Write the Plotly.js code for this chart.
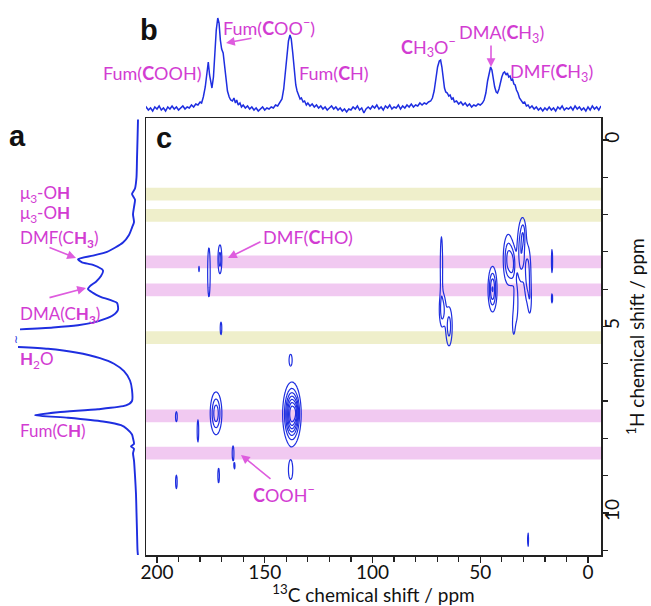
<!DOCTYPE html>
<html><head><meta charset="utf-8">
<script src="https://cdn.plot.ly/plotly-3.0.1.min.js"></script>
<style>body{margin:0;background:#fff}#chart{width:651px;height:606px}</style>
</head><body><div id="chart"></div>
<script>
// ---- (b) 13C projection: [chemical shift (ppm), intensity] ----
const c13Spectrum = [
 [205.6,6],[205,8],[204,5],[203,7],[202,4],[201,8],[200,6],[199,9],[198,5],[197,7],[196,4],[195,8],[194,6],[193,9],[192,6],[191,8],[190,5],[189,7],[188,9],[187,6],[186,8],[185,7],[184,10],[183,8],[182,11],[181,10],[180,13],
 [179.3,12],[178.5,18],[177.6,28],[176.8,42],[176.2,53],[175.6,40],[175,30],[174.5,27],[173.8,38],[173.2,60],[172.5,85],[171.8,97],[171.2,92],[170.6,75],[170,66],[169.3,62],[168.6,48],[168,35],[167.3,24],[166.5,18],[165.8,15],[165,14],[164.3,17],[163.6,12],[163,15],[162.3,10],[161.5,12],[160.8,8],[160,10],
 [159,7],[158,9],[157,6],[156,8],[155,5],[154,7],[153,4],[152,6],[151,8],[150,5],[149,7],[148,6],[147,8],[146,7],[145,10],[144,9],[143,12],[142,16],
 [141.2,26],[140.5,42],[139.8,60],[139,74],[138.3,80],[137.7,76],[137,62],[136.3,42],[135.6,30],[135,24],[134.3,19],[133.6,16],[133,17],[132.2,13],[131.5,14],[130.7,10],[130,12],
 [129,9],[128,11],[127,8],[126,10],[125,7],[124,9],[123,6],[122,8],[121,5],[120,7],[119,9],[118,6],[117,8],[116,5],[115,7],[114,4],[113,6],[112,3],[111,6],[110,5],[109,8],[108,6],[107,9],[106,5],[105,7],[104,2],[103,6],[102,8],[101,6],[100,9],
 [99,7],[98,10],[97,6],[96,8],[95,5],[94,9],[93,7],[92,10],[91,6],[90,8],[89,7],[88,10],[87,6],[86,9],[85,7],[84,10],[83,8],[82,11],[81,8],[80,10],[79,9],[78,12],[77,10],[76,12],[75,11],[74,13],[73,14],
 [72.2,17],[71.4,24],[70.6,36],[69.8,48],[69,54],[68.4,55],[67.8,48],[67.2,36],[66.6,27],[66,23],[65.3,22],[64.6,19],[64,20],[63.3,16],[62.6,17],[62,13],[61,14],[60,11],
 [59,13],[58,10],[57,12],[56,9],[55,11],[54,8],[53,10],[52,9],[51,11],[50,10],[49,12],
 [48.2,15],[47.4,22],[46.6,34],[45.8,44],[45.2,48],[44.6,45],[44,37],[43.3,28],[42.6,23],[42,22],[41.3,26],[40.6,33],[40,38],[39.3,42],[38.7,43],[38,40],[37.4,42],[36.8,38],[36.2,39],[35.6,35],[35,36],[34.4,31],[33.8,30],[33.2,25],[32.5,22],[31.8,17],[31,15],[30.2,12],[29.4,13],[28.6,9],[27.8,10],
 [27,7],[26,9],[25,6],[24,8],[23,5],[22,7],[21,4],[20,7],[19,5],[18,8],[17,5],[16,7],[15,4],[14,8],[13,6],[12,9],[11,5],[10,7],[9,6],[8,8],[7,5],[6,9],[5,6],[4,8],[3,5],[2,7],[1,4],[0,8],[-1,5],[-2,9],[-3,6],[-4,8],[-5,5],[-6,9],[-6.5,7]
];

// ---- (a) 1H projection: chemical shift (ppm) and intensity; null = clipped H2O peak ----
const h1Ppm = [-0.55,0,0.5,1.0,1.3,1.45,1.6,1.8,2.0,2.2,2.35,2.55,2.75,3.0,3.1,3.2,3.28,3.35,3.5,3.65,3.8,3.92,4.0,4.1,4.2,4.37,4.55,4.7,4.8,4.9,4.97,5.03,5.08,5.3,5.55,5.6,5.7,5.85,6.0,6.2,6.45,6.7,7.0,7.12,7.22,7.3,7.38,7.45,7.55,7.65,7.75,7.9,8.0,8.15,8.22,8.28,8.4,8.6,9.0,9.5,10.0,10.5,11.0,11.15];
const h1Int = [0,0.5,1,1.5,3,6,3,4,5,4,6,9,15,31,45,60,56,45,35,37,42,48,50,45,38,21,20,25,33,45,60,85,118,null,120,90,62,38,24,14,8,6,6,12,40,80,103,70,35,17,11,6,5,4,7,4,5,4,3,2,1.5,1,0.5,0];

// ---- (c) HETCOR cross peaks: 13C centre, 1H centre, widths, relative intensity ----
const peakC  = [137.4,135.5,172.6,138.0,191.0,181.0,164.7,164.0,191.0,171.4,138.0,27.8,175.9,170.8,180.5,170.3,68.0,67.5,64.5,44.3,37.0,35.0,31.0,28.0,30.0,33.5,34.5,27.0,16.7,16.7];
const peakH  = [7.35,7.30,7.33,5.90,7.42,7.80,8.40,8.75,9.17,9.00,8.85,10.72,3.55,3.20,3.46,5.05,3.40,4.55,5.00,4.00,3.20,3.35,3.00,3.60,2.50,4.40,4.95,4.30,3.25,4.25];
const peakWC = [2.0,0.8,1.56,0.78,0.45,0.40,0.45,0.30,0.40,0.40,1.10,0.30,0.50,0.60,0.30,0.40,0.45,1.00,1.00,1.17,1.40,1.00,1.20,1.00,0.80,0.80,0.50,0.60,0.30,0.30];
const peakWH = [0.40,0.20,0.33,0.17,0.15,0.33,0.22,0.10,0.20,0.22,0.28,0.25,0.56,0.26,0.12,0.19,0.68,0.30,0.35,0.34,0.40,0.30,0.50,0.50,0.25,0.40,0.25,0.30,0.35,0.13];
const peakAmp= [1.0,0.2,0.45,0.15,0.15,0.15,0.15,0.12,0.15,0.15,0.15,0.13,0.2,0.3,0.12,0.15,0.2,0.3,0.3,0.5,0.4,0.3,0.35,0.3,0.2,0.2,0.15,0.15,0.15,0.15];

// ---- highlighted 1H rows ----
const bandPpm  = [1.45,2.02,3.27,4.02,5.3,7.4,8.4];
const bandKind = ['y','y','p','p','y','p','p'];

// ---- axis ranges ----
const xRange = [205.1,-6.03];
const yRange = [11.13,-0.59];

// 2D intensity map built from the cross-peak list
const gx = [], gy = [];
for (let v = -6; v <= 205.01; v += 0.25) gx.push(+v.toFixed(2));
for (let v = -0.6; v <= 11.21; v += 0.04) gy.push(+v.toFixed(2));
const z = gy.map(yy => gx.map(xx => {
  let s = 0;
  for (let k = 0; k < peakC.length; k++) {
    const dx = (xx - peakC[k]) / peakWC[k], dy = (yy - peakH[k]) / peakWH[k];
    const e = 0.5 * (dx*dx + dy*dy);
    if (e < 12) s += peakAmp[k] * Math.exp(-e);
  }
  return s;
}));

const W = 651, H = 606;
const px = v => v / W, py = v => 1 - v / H;
const MAG = '#d23cd2', ARR = '#de5cde', BLUE = '#1e2ee0';
const FONT = 'Lato';

const traces = [
  {type:'contour', x:gx, y:gy, z:z, xaxis:'x', yaxis:'y', hoverinfo:'skip',
   contours:{coloring:'lines', start:0.1, end:1.0, size:0.13},
   colorscale:[[0,BLUE],[1,BLUE]], showscale:false, line:{width:1.2, smoothing:1}},
  {type:'scatter', mode:'lines', x:c13Spectrum.map(p => p[0]), y:c13Spectrum.map(p => p[1]), xaxis:'x2', yaxis:'y2',
   line:{color:BLUE, width:1.5}, hoverinfo:'skip'},
  {type:'scatter', mode:'lines', x:h1Int, y:h1Ppm, xaxis:'x3', yaxis:'y3',
   line:{color:BLUE, width:1.9, shape:'spline', smoothing:0.6}, connectgaps:false, hoverinfo:'skip'}
];

const shapes = bandPpm.map((b, i) => ({
  type:'rect', xref:'x domain', yref:'y', x0:0, x1:1, y0:b-0.17, y1:b+0.17,
  fillcolor: bandKind[i] === 'p' ? '#f1c9f1' : '#efefcb', line:{width:0}, layer:'below'
}));

function lab(text, x, y, opts) {
  return Object.assign({text:text, xref:'paper', yref:'paper', x:px(x), y:py(y), showarrow:false,
    font:{family:FONT, size:18, color:MAG}, xanchor:'center', yanchor:'middle'}, opts || {});
}
function arrow(hx, hy, tx, ty) {
  return {text:'', xref:'paper', yref:'paper', x:px(hx), y:py(hy), ax:tx-hx, ay:ty-hy,
    showarrow:true, arrowhead:2, arrowsize:1.1, arrowwidth:1.6, arrowcolor:ARR};
}
const big = {font:{family:'Liberation Sans', size:29, color:'#111', weight:'bold'}};
const left = {xanchor:'left', font:{family:FONT, size:17, color:MAG}};

const annotations = [
  lab('<b>b</b>', 149, 30, big), lab('<b>a</b>', 17, 136, big), lab('<b>c</b>', 164, 138, big),
  lab('Fum(<b>C</b>OOH)', 152, 73),
  lab('Fum(<b>C</b>OO<sup>−</sup>)', 269, 27),
  arrow(226, 43, 253, 38),
  lab('Fum(<b>C</b>H)', 334, 73),
  lab('<b>C</b>H<sub>3</sub>O<sup>−</sup>', 428, 47),
  lab('DMA(<b>C</b>H<sub>3</sub>)', 501, 33),
  arrow(491, 67, 491, 44),
  lab('DMF(<b>C</b>H<sub>3</sub>)', 551, 73),
  lab('DMF(<b>C</b>HO)', 308, 237),
  arrow(228, 258, 262, 241),
  lab('<b>C</b>OOH<sup>−</sup>', 284, 494),
  arrow(241, 455, 272, 480),
  lab('μ<sub>3</sub>-O<b>H</b>', 18, 194, left),
  lab('μ<sub>3</sub>-O<b>H</b>', 18, 214, left),
  lab('DMF(C<b>H<sub>3</sub></b>)', 18, 239, left),
  arrow(76, 258, 48, 247),
  lab('DMA(C<b>H<sub>3</sub></b>)', 18, 315, left),
  arrow(86, 288, 48, 298),
  lab('<b>H</b><sub>2</sub>O', 18, 360, left),
  lab('Fum(C<b>H</b>)', 18, 430, left),
  lab('≀', 16, 338, {font:{family:FONT, size:11, color:BLUE}})
];

const tickFont = {family:FONT, size:19, color:'#111'};
const titleFont = {family:FONT, size:19, color:'#111'};
const layout = {
  width:W, height:H, margin:{l:0, r:0, t:0, b:0}, paper_bgcolor:'#fff', plot_bgcolor:'rgba(0,0,0,0)',
  showlegend:false, font:{family:FONT},
  xaxis:{domain:[px(146), px(601)], range:xRange, anchor:'y', showline:true, mirror:true,
    linecolor:'#222', linewidth:1.5, ticks:'outside', ticklen:6, tickwidth:1.3, tickcolor:'#222',
    tick0:0, dtick:50, minor:{dtick:10, ticks:'outside', ticklen:5, tickwidth:1.2, tickcolor:'#222'},
    showgrid:false, zeroline:false, tickfont:tickFont, ticklabelstandoff:-6,
    title:{text:'<sup>13</sup>C chemical shift / ppm', font:titleFont, standoff:3}},
  yaxis:{domain:[py(555), py(118)], range:yRange, anchor:'x', side:'right', showline:true, mirror:true,
    linecolor:'#222', linewidth:1.5, ticks:'outside', ticklen:6, tickwidth:1.3, tickcolor:'#222',
    tick0:0, dtick:5, minor:{dtick:1, ticks:'outside', ticklen:5, tickwidth:1.2, tickcolor:'#222'},
    tickangle:-90, showgrid:false, zeroline:false, tickfont:tickFont, ticklabelstandoff:-12,
    title:{text:'<sup>1</sup>H chemical shift / ppm', font:titleFont, standoff:0}},
  xaxis2:{domain:[px(146), px(601)], range:xRange, anchor:'y2', visible:false},
  yaxis2:{domain:[py(115), py(5)], range:[0,110], anchor:'x2', visible:false},
  xaxis3:{domain:[0, px(143)], range:[138,-5], anchor:'y3', visible:false},
  yaxis3:{domain:[py(555), py(118)], range:yRange, anchor:'x3', visible:false},
  shapes:shapes, annotations:annotations
};
Plotly.newPlot('chart', traces, layout, {displayModeBar:false, staticPlot:true});
</script></body></html>
